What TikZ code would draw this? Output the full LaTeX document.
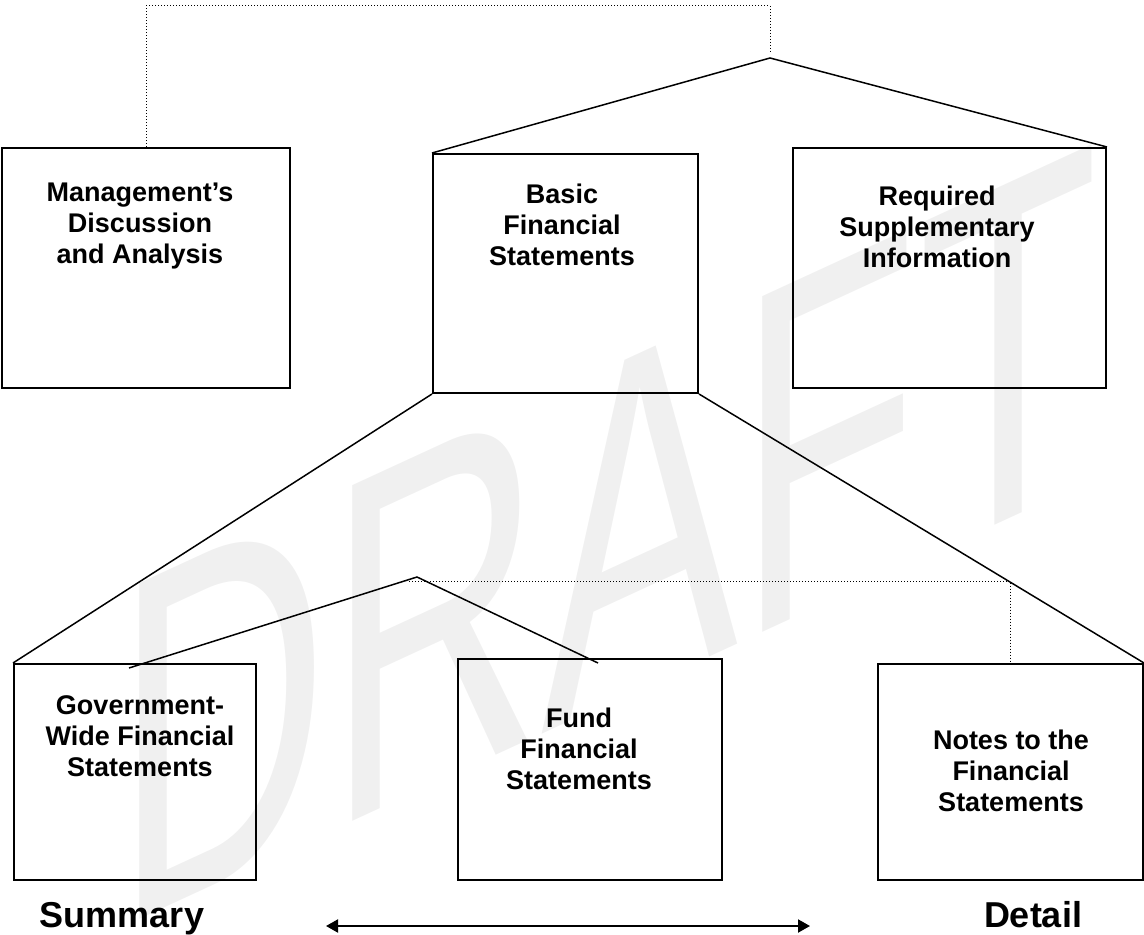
\documentclass[tikz,border=0pt]{standalone}
\usepackage{fontspec}
\setmainfont{Liberation Sans}
\usetikzlibrary{arrows.meta}
\begin{document}
\begin{tikzpicture}[x=0.5pt, y=-0.5pt, font=\bfseries\fontsize{13.5}{15.5}\selectfont, block/.style={draw, line width=1pt, inner sep=0pt}, tie/.style={line width=0.75pt}, dotline/.style={line width=0.5pt, densely dotted}, boxtext/.style={align=center, inner sep=0pt, anchor=base}, endtext/.style={inner sep=0pt, anchor=base, font=\bfseries\fontsize{18}{20}\selectfont}]
    \useasboundingbox (0,0) rectangle (1144,935);
    \begin{scope}[shift={(115,931)}, cm={1.475,0.68,0,2.44,(0,0)}]
        \node[transform shape, inner sep=0pt, anchor=base west, text=black!6, font=\normalfont\fontsize{100}{100}\selectfont] (wm) at (0,0) {DRAFT};
    \end{scope}

    \node[block, minimum width=144pt, minimum height=120pt] (mda) at (146,268) {};
    \node[block, minimum width=132.5pt, minimum height=119.5pt] (bfs) at (565.5,273.5) {};
    \node[block, minimum width=156.5pt, minimum height=120pt] (rsi) at (949.5,268) {};
    \node[block, minimum width=121pt, minimum height=108pt] (gwfs) at (135,772) {};
    \node[block, minimum width=132pt, minimum height=110.5pt] (ffs) at (590,769.5) {};
    \node[block, minimum width=132.5pt, minimum height=108pt] (notes) at (1010.5,772) {};

    \node[boxtext] (mdatext) at (140,264) {Management’s\\Discussion\\and Analysis};
    \node[boxtext] (bfstext) at (562,266) {Basic\\Financial\\Statements};
    \node[boxtext] (rsitext) at (937,268) {Required\\Supplementary\\Information};
    \node[boxtext] (gwfstext) at (140,776) {Government-\\Wide Financial\\Statements};
    \node[boxtext] (ffstext) at (579,789) {Fund\\Financial\\Statements};
    \node[boxtext] (notestext) at (1011,811) {Notes to the\\Financial\\Statements};

    \node[endtext] (summary) at (122,927) {Summary};
    \node[endtext] (detail) at (1033,927) {Detail};

    \coordinate (top) at (770,58);
    \coordinate (mid) at (417,577);
    \coordinate (gwend) at (129,668);
    \coordinate (fend) at (598,663);
    \draw[tie] (bfs.north west) -- (top) -- (rsi.north east);
    \draw[tie] (gwfs.north west) -- (bfs.south west);
    \draw[tie] (bfs.south east) -- (notes.north east);
    \draw[tie] (gwend) -- (mid) -- (fend);

    \coordinate (dotA) at (146,6);
    \coordinate (dotB) at (770,6);
    \coordinate (dotC) at (770,52);
    \draw[dotline] (mda.north) -- (dotA) -- (dotB) -- (dotC);
    \coordinate (dotD) at (409,581);
    \coordinate (dotE) at (1010.5,581);
    \draw[dotline] (dotD) -- (dotE) -- (notes.north);

    \coordinate (arrL) at (326,926);
    \coordinate (arrR) at (810,926);
    \draw[line width=1pt, {Triangle[length=6pt, width=6.5pt]}-{Triangle[length=6pt, width=6.5pt]}] (arrL) -- (arrR);
\end{tikzpicture}
\end{document}
